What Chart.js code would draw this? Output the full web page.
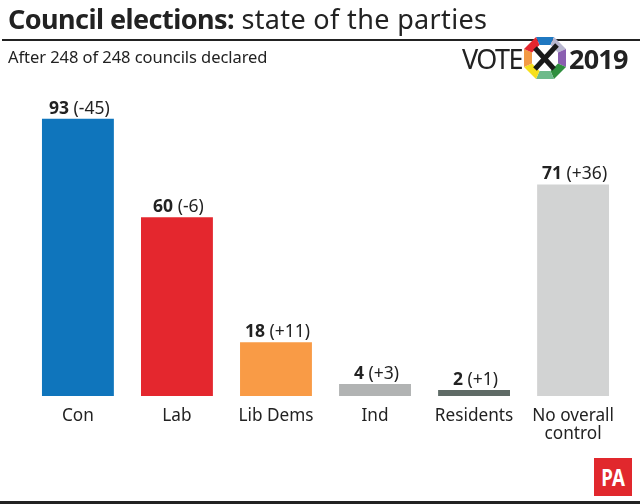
<!DOCTYPE html>
<html>
<head>
<meta charset="utf-8">
<script src="https://cdn.jsdelivr.net/npm/chart.js@4"></script>
<style>
html, body { margin: 0; padding: 0; background: #fff; }
body { width: 640px; height: 504px; position: relative; overflow: hidden; font-family: "Noto Sans", sans-serif; color: #222; }
#wrap { position: absolute; left: 0; top: 0; width: 640px; height: 504px; }
.t { position: absolute; white-space: nowrap; line-height: 1; }
#title { left: 8px; top: 5px; font-size: 27px; letter-spacing: 0.35px; }
#title b { font-weight: 700; letter-spacing: -0.55px; }
#rule { position: absolute; left: 2px; right: 0; top: 39px; height: 2px; background: #222; }
#sub { left: 8px; top: 49px; font-size: 16.5px; letter-spacing: -0.06px; }
#vote { left: 462px; top: 45px; font-size: 27px; letter-spacing: -1.6px; }
#year { left: 569px; top: 45px; font-size: 27px; font-weight: 700; letter-spacing: -0.8px; }
#logo { position: absolute; left: 523px; top: 36px; }
#pa { position: absolute; left: 594px; top: 458px; width: 38px; height: 38px; background: #e1282d; color: #fff; font-size: 24px; font-weight: 700; text-align: center; line-height: 38px; }
#pa span { display: inline-block; transform: scaleX(0.78); }
#foot { position: absolute; left: 0; right: 0; top: 501px; height: 3px; background: #222; }
</style>
</head>
<body>
<div id="wrap"><canvas id="seatsChart" width="640" height="504"></canvas></div>
<div class="t" id="title"><b>Council elections:</b> state of the parties</div>
<div id="rule"></div>
<div class="t" id="sub">After 248 of 248 councils declared</div>
<div class="t" id="vote">VOTE</div>
<svg id="logo" width="44" height="44" viewBox="0 0 44 44">
  <polygon points="13,1 31,1 27.5,9 16.5,9" fill="#1f78c1"/>
  <polygon points="31,1 43,13 35,16.5 27.5,9" fill="#b9b7d0"/>
  <polygon points="43,13 43,31 35,27.5 35,16.5" fill="#8a5fb0"/>
  <polygon points="43,31 31,43 27.5,35 35,27.5" fill="#2f8f3f"/>
  <polygon points="31,43 13,43 16.5,35 27.5,35" fill="#6dbb8a"/>
  <polygon points="13,43 1,31 9,27.5 16.5,35" fill="#f6e01c"/>
  <polygon points="1,31 1,13 9,16.5 9,27.5" fill="#f39b45"/>
  <polygon points="1,13 13,1 16.5,9 9,16.5" fill="#e3262e"/>
  <path d="M12 12 L31 33 M34 9 L12 33" stroke="#1a1a1a" stroke-width="5" fill="none"/>
</svg>
<div class="t" id="year">2019</div>
<div id="pa"><span>PA</span></div>
<div id="foot"></div>
<script>
const parties = ['Con', 'Lab', 'Lib Dems', 'Ind', 'Residents', ['No overall', 'control']];
const seats = [93, 60, 18, 4, 2, 71];
const changes = ['(-45)', '(-6)', '(+11)', '(+3)', '(+1)', '(+36)'];
const barColours = ['#0f75bc', '#e4272e', '#f99b46', '#b1b3b3', '#5f6b66', '#d2d3d3'];

// value + change above each bar, bold then regular
const barLabels = {
    id: 'barLabels',
    afterDatasetsDraw(chart) {
        const c = chart.ctx;
        chart.getDatasetMeta(0).data.forEach((bar, i) => {
            const a = String(seats[i]);
            const b = ' ' + changes[i];
            c.save();
            c.textBaseline = 'alphabetic';
            c.textAlign = 'left';
            c.fillStyle = '#222';
            c.font = '700 17.5px "Noto Sans"';
            const wa = c.measureText(a).width;
            c.font = '400 17.5px "Noto Sans"';
            const wb = c.measureText(b).width;
            const x = bar.x - (wa + wb) / 2 + 1.5;
            c.font = '700 17.5px "Noto Sans"';
            c.fillText(a, x, bar.y - 5);
            c.font = '400 17.5px "Noto Sans"';
            c.fillText(b, x + wa, bar.y - 5);
            c.restore();
        });
    }
};

new Chart(document.getElementById('seatsChart').getContext('2d'), {
    type: 'bar',
    data: {
        labels: parties,
        datasets: [{
            data: seats,
            backgroundColor: barColours,
            barPercentage: 0.726,
            categoryPercentage: 1
        }]
    },
    options: {
        responsive: false,
        animation: false,
        layout: { padding: { left: 28.4, right: 17.4, top: 98, bottom: 0 } },
        plugins: { legend: { display: false }, title: { display: false }, tooltip: { enabled: false } },
        scales: {
            x: {
                grid: { display: false },
                border: { display: false },
                afterFit(axis) { axis.height = 108; },
                ticks: {
                    color: '#222',
                    font: { family: '"Noto Sans"', size: 17.2, lineHeight: 1.05 },
                    padding: 3,
                    maxRotation: 0,
                    autoSkip: false
                }
            },
            y: { display: false, min: 0, max: 100 }
        }
    },
    plugins: [barLabels]
});
</script>
</body>
</html>
